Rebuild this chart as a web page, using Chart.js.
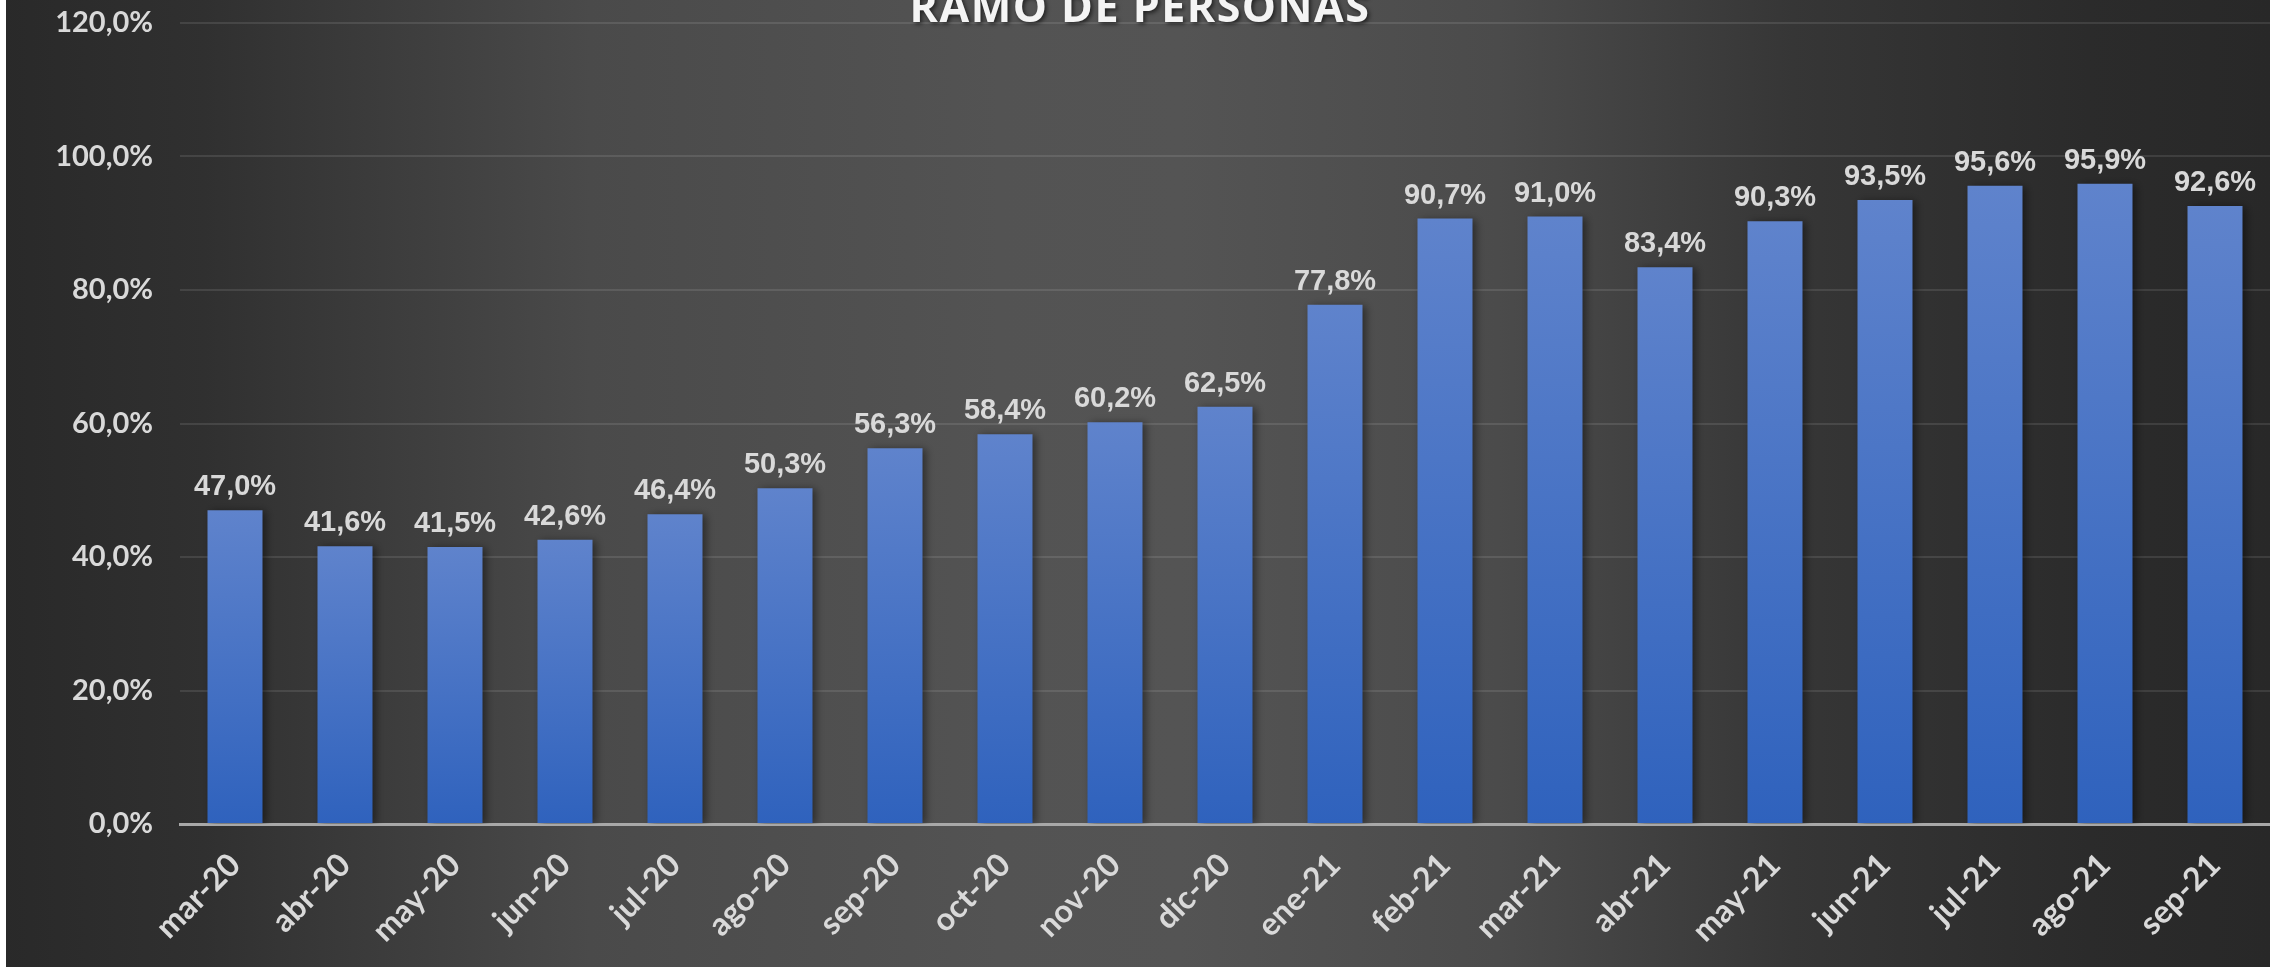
<!DOCTYPE html>
<html lang="es">
<head>
<meta charset="utf-8">
<title>Ramo de personas</title>
<script src="https://cdn.jsdelivr.net/npm/chart.js@4/dist/chart.umd.min.js"></script>
<style>
  html, body { margin: 0; padding: 0; background: #ffffff; overflow: hidden; }
  .wrap { position: absolute; left: 6px; top: 0; width: 2264px; height: 967px; }
</style>
</head>
<body>
<div class="wrap"><canvas id="ramoChart"></canvas></div>
<script>
// Chart data
const chartTitle = "RAMO DE PERSONAS";
const months = ["mar-20", "abr-20", "may-20", "jun-20", "jul-20", "ago-20", "sep-20", "oct-20", "nov-20", "dic-20",
  "ene-21", "feb-21", "mar-21", "abr-21", "may-21", "jun-21", "jul-21", "ago-21", "sep-21"];
const ratioValues = [47.0, 41.6, 41.5, 42.6, 46.4, 50.3, 56.3, 58.4, 60.2, 62.5,
  77.8, 90.7, 91.0, 83.4, 90.3, 93.5, 95.6, 95.9, 92.6];
const yTicks = [0, 20, 40, 60, 80, 100, 120];

const fmtPct = v => v.toFixed(1).replace(".", ",") + "%";

// Background: dark sides, lighter middle
const backgroundPlugin = {
  id: "bgFill",
  beforeDraw(chart) {
    const { ctx, width, height } = chart;
    const g = ctx.createLinearGradient(-6, 0, 2264, 0);
    g.addColorStop(0.0, "#292929");
    g.addColorStop(0.09, "#303030");
    g.addColorStop(0.26, "#4a4a4a");
    g.addColorStop(0.44, "#535353");
    g.addColorStop(0.52, "#545454");
    g.addColorStop(0.66, "#4b4b4b");
    g.addColorStop(0.79, "#363636");
    g.addColorStop(0.92, "#2b2b2b");
    g.addColorStop(1.0, "#282828");
    ctx.save();
    ctx.fillStyle = g;
    ctx.fillRect(0, 0, width, height);
    ctx.restore();
  }
};

// Cut-off title at the top
const titlePlugin = {
  id: "topTitle",
  afterDraw(chart) {
    const { ctx, width } = chart;
    ctx.save();
    ctx.font = "bold 43px 'Open Sans'";
    ctx.letterSpacing = "1.5px";
    ctx.fillStyle = "#f4f4f4";
    ctx.textAlign = "center";
    ctx.textBaseline = "alphabetic";
    ctx.shadowColor = "rgba(0,0,0,0.6)";
    ctx.shadowBlur = 4;
    ctx.shadowOffsetX = 2;
    ctx.shadowOffsetY = 2;
    ctx.fillText(chartTitle, width / 2 + 2, 22);
    ctx.restore();
  }
};

// Soft shadow behind the bars
const barShadowPlugin = {
  id: "barShadow",
  beforeDatasetDraw(chart) {
    const ctx = chart.ctx;
    ctx.save();
    ctx.shadowColor = "rgba(0,0,0,0.45)";
    ctx.shadowBlur = 8;
    ctx.shadowOffsetX = 3;
    ctx.shadowOffsetY = 1;
  },
  afterDatasetDraw(chart) {
    chart.ctx.restore();
  }
};

// Value labels above each bar
const valueLabelPlugin = {
  id: "valueLabels",
  afterDatasetsDraw(chart) {
    const ctx = chart.ctx;
    const meta = chart.getDatasetMeta(0);
    ctx.save();
    ctx.font = "bold 29px 'Liberation Sans'";
    ctx.fillStyle = "#d9d9d9";
    ctx.textAlign = "center";
    ctx.textBaseline = "alphabetic";
    meta.data.forEach((bar, i) => {
      ctx.fillText(fmtPct(ratioValues[i]), bar.x, bar.y - 15);
    });
    ctx.restore();
  }
};

const chartCanvas = document.getElementById("ramoChart");

new Chart(chartCanvas, {
  type: "bar",
  data: {
    labels: months,
    datasets: [{
      label: chartTitle,
      data: ratioValues,
      backgroundColor: (c) => {
        const chart = c.chart;
        if (!chart.chartArea || c.type !== "data") return "#3f6fc5";
        const yScale = chart.scales.y;
        const top = yScale.getPixelForValue(c.raw);
        const bottom = yScale.getPixelForValue(0);
        const g = chart.ctx.createLinearGradient(0, top, 0, bottom);
        g.addColorStop(0, "#5f83cc");
        g.addColorStop(1, "#2f62bd");
        return g;
      },
      borderWidth: 0,
      categoryPercentage: 1.0,
      barPercentage: 0.5
    }]
  },
  options: {
    responsive: true,
    maintainAspectRatio: false,
    animation: false,
    events: [],
    layout: { padding: { top: 23, right: 0, bottom: 0, left: 0 } },
    plugins: {
      legend: { display: false },
      title: { display: false },
      tooltip: { enabled: false }
    },
    scales: {
      x: {
        z: 1,
        offset: true,
        grid: { display: false, drawTicks: false },
        border: { display: true, color: "#a8a8a8", width: 3 },
        ticks: {
          color: "#d9d9d9",
          font: { family: "Lato", size: 32, weight: "bold" },
          minRotation: 45,
          maxRotation: 45,
          padding: 22,
          autoSkip: false
        },
        afterFit(scale) {
          scale.height = 143;
          scale.paddingLeft = 0;
          scale.paddingRight = 0;
        }
      },
      y: {
        min: 0,
        max: 120,
        afterBuildTicks(scale) {
          scale.ticks = yTicks.map(v => ({ value: v }));
        },
        grid: { color: "rgba(255,255,255,0.10)", lineWidth: 2, drawTicks: false },
        border: { display: false },
        ticks: {
          color: "#d9d9d9",
          font: { family: "Lato", size: 29, weight: "bold" },
          padding: 27,
          callback: v => fmtPct(v)
        },
        afterFit(scale) {
          scale.width = 174;
          scale.paddingTop = 0;
          scale.paddingBottom = 0;
        }
      }
    }
  },
  plugins: [backgroundPlugin, barShadowPlugin, valueLabelPlugin, titlePlugin]
});
</script>
</body>
</html>
